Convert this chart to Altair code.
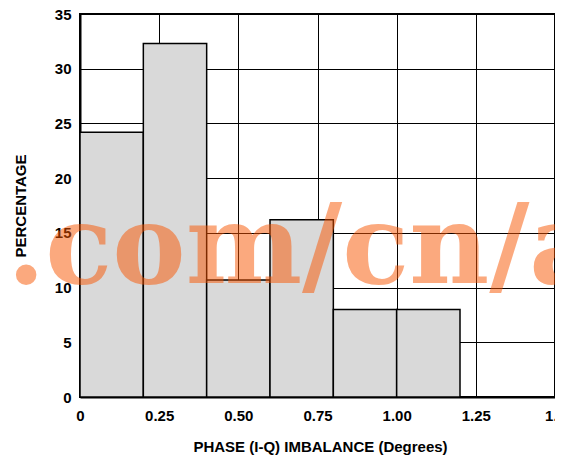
import altair as alt
import pandas as pd

# Histogram bins (degrees) and percentages
bin_start = [0.0, 0.2, 0.4, 0.6, 0.8, 1.0]
bin_end = [0.2, 0.4, 0.6, 0.8, 1.0, 1.2]
percentage = [24.2, 32.3, 10.7, 16.2, 8.0, 8.0]

x_ticks = [0, 0.25, 0.5, 0.75, 1.0, 1.25, 1.5]
y_ticks = [0, 5, 10, 15, 20, 25, 30, 35]

watermark_main = [".com/cn/a"]
watermark_prev = ["t"]

df = pd.DataFrame({"start": bin_start, "end": bin_end, "pct": percentage,
                   "base": [0] * len(bin_start)})

x_scale = alt.Scale(domain=[0, 1.5], nice=False, zero=False)
y_scale = alt.Scale(domain=[0, 35], nice=False)

bars = alt.Chart(df).mark_rect(fill="#d9d9d9", stroke="black", strokeWidth=1.5).encode(
    x=alt.X("start:Q", scale=x_scale,
            axis=alt.Axis(values=x_ticks, title="PHASE (I-Q) IMBALANCE (Degrees)",
                          labelExpr="datum.value == 0 ? '0' : datum.value == 1.5 ? '1.5' : format(datum.value, '.2f')",
                          labelPadding=11, labelFlush=False, labelOverlap=False,
                          titleX=240, titleY=54, titleAlign="center", titleBaseline="alphabetic")),
    x2="end:Q",
    y=alt.Y("pct:Q", scale=y_scale,
            axis=alt.Axis(values=y_ticks, title="PERCENTAGE", labelPadding=9,
                          labelFlush=False, labelOverlap=False,
                          titleX=-55, titleY=191.5, titleAngle=-90, titleAlign="center",
                          titleBaseline="alphabetic")),
    y2="base:Q",
)

wm_style = dict(font="DejaVu Serif", fontWeight="bold", fontSize=110,
                baseline="alphabetic", color="#f95500", opacity=0.5)

wm1 = alt.Chart(pd.DataFrame({"t": watermark_main})).mark_text(align="left", **wm_style).encode(
    text="t:N", x=alt.value(-73), y=alt.value(269))
wm2 = alt.Chart(pd.DataFrame({"t": watermark_prev})).mark_text(align="right", **wm_style).encode(
    text="t:N", x=alt.value(-73), y=alt.value(269))

chart = alt.layer(bars, wm1, wm2).properties(
    width=475, height=383,
    autosize=alt.AutoSizeParams(type="none"),
    padding={"left": 72, "top": 6, "right": 0, "bottom": 58},
).configure_axis(
    labelFont="Liberation Sans", labelFontWeight="bold", labelFontSize=15, labelColor="black",
    titleFont="Liberation Sans", titleFontWeight="bold", titleFontSize=15, titleColor="black",
    grid=True, gridColor="black", gridWidth=1, gridOpacity=1,
    domainColor="black", domainWidth=2, ticks=False,
).configure_view(stroke="black", strokeWidth=2)

chart.save("out.html", embed_options={"renderer": "svg", "actions": False})
